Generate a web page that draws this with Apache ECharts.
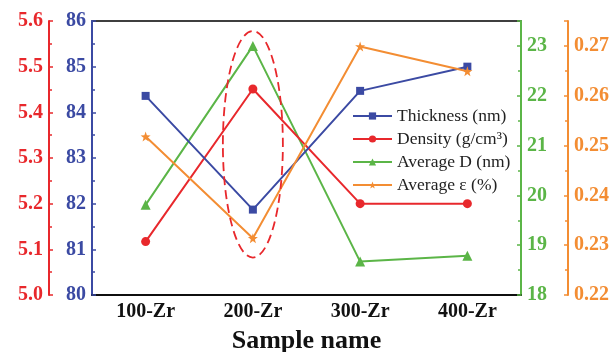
<!DOCTYPE html>
<html><head><meta charset="utf-8">
<script src="https://cdn.jsdelivr.net/npm/echarts@6/dist/echarts.min.js"></script>
<style>html,body{margin:0;padding:0;background:#fff}#c{width:613px;height:352px}</style>
</head><body><div id="c"></div>
<script>
const categories = ['100-Zr', '200-Zr', '300-Zr', '400-Zr'];
const thickness = [84.36, 81.87, 84.47, 85.0];
const density = [5.117, 5.451, 5.20, 5.20];
const averageD = [19.81, 23.0, 18.67, 18.79];
const averageStrain = [0.2518, 0.2314, 0.2699, 0.2649];
const seriesNames = ['Thickness (nm)', 'Density (g/cm³)', 'Average D (nm)', 'Average ε (%)'];
const xTitle = 'Sample name';

const BLUE = '#3b4aa3', RED = '#e8282c', GREEN = '#5bb547', ORANGE = '#f38d33';
const FONT = "'Liberation Serif', 'Times New Roman', serif";

function yAx(color, min, max, interval, position, offset, dec) {
  return {
    type: 'value', min: min, max: max, interval: interval, position: position, offset: offset,
    axisLine: { show: true, lineStyle: { color: color, width: 2 } },
    axisTick: { show: true, inside: true, length: 4, lineStyle: { color: color, width: 1.5 } },
    minorTick: { show: true, splitNumber: 2, length: 3, lineStyle: { color: color, width: 1.5 } },
    splitLine: { show: false },
    axisLabel: { color: color, fontFamily: FONT, fontWeight: 'bold', fontSize: 20, margin: 6,
      showMaxLabel: Math.abs((max - min) / interval - Math.round((max - min) / interval)) < 1e-6,
      formatter: v => v.toFixed(dec) }
  };
}

const chart = echarts.init(document.getElementById('c'));
const option = {
  animation: false,
  grid: { left: 92, right: 92, top: 21, bottom: 57, show: true, borderColor: '#000', borderWidth: 1.5,
    containLabel: false, outerBoundsMode: 'none' },
  legend: {
    orient: 'vertical', left: 347, top: 102, itemWidth: 39, itemHeight: 9, itemGap: 5,
    textStyle: { fontFamily: FONT, fontSize: 17.5, color: '#222' },
    data: seriesNames
  },
  xAxis: [{
    type: 'category', data: categories, position: 'bottom',
    axisLine: { lineStyle: { color: '#000', width: 1.5 } },
    axisTick: { inside: true, alignWithLabel: true, length: 5, lineStyle: { color: '#000', width: 1.5 } },
    axisLabel: { color: '#111', fontFamily: FONT, fontWeight: 'bold', fontSize: 20, margin: 7 },
    name: xTitle, nameLocation: 'middle', nameGap: 33,
    nameTextStyle: { color: '#111', fontFamily: FONT, fontWeight: 'bold', fontSize: 26 }
  }, {
    type: 'category', data: categories, position: 'bottom', gridIndex: 0,
    axisLine: { show: false },
    axisTick: { inside: true, length: 3, lineStyle: { color: '#000', width: 1.5 } },
    axisLabel: { show: false }
  }],
  yAxis: [
    yAx(RED, 5.0, 5.6, 0.1, 'left', 43, 1),
    yAx(BLUE, 80, 86, 1, 'left', 0, 0),
    yAx(GREEN, 18, 23.5, 1, 'right', 0, 0),
    yAx(ORANGE, 0.22, 0.275, 0.01, 'right', 47, 2)
  ],
  series: [
    { name: seriesNames[0], type: 'line', yAxisIndex: 1, data: thickness, symbol: 'rect', symbolSize: 8,
      lineStyle: { color: BLUE, width: 2 }, itemStyle: { color: BLUE }, z: 4 },
    { name: seriesNames[1], type: 'line', yAxisIndex: 0, data: density, symbol: 'circle', symbolSize: 9,
      lineStyle: { color: RED, width: 2 }, itemStyle: { color: RED }, z: 3 },
    { name: seriesNames[2], type: 'line', yAxisIndex: 2, data: averageD, symbol: 'triangle', symbolSize: 10,
      lineStyle: { color: GREEN, width: 2 }, itemStyle: { color: GREEN }, z: 2 },
    { name: seriesNames[3], type: 'line', yAxisIndex: 3, data: averageStrain,
      symbol: 'path://M0,-10 L2.35,-3.24 L9.51,-3.09 L3.8,1.24 L5.88,8.09 L0,4 L-5.88,8.09 L-3.8,1.24 L-9.51,-3.09 L-2.35,-3.24 Z',
      symbolSize: 10, lineStyle: { color: ORANGE, width: 2 }, itemStyle: { color: ORANGE }, z: 5 }
  ]
};
chart.setOption(option);

// dashed ellipse annotation around the 200-Zr column (blue axis units)
const cx = chart.convertToPixel({ xAxisIndex: 0 }, categories[1]);
const yTop = chart.convertToPixel({ yAxisIndex: 1 }, 85.78);
const yBot = chart.convertToPixel({ yAxisIndex: 1 }, 80.82);
chart.setOption({
  graphic: [{
    type: 'ellipse', z: 10,
    shape: { cx: cx, cy: (yTop + yBot) / 2, rx: 30, ry: (yBot - yTop) / 2 },
    style: { fill: 'none', stroke: RED, lineWidth: 1.8, lineDash: [9, 5] }
  }]
});
</script>
</body></html>
